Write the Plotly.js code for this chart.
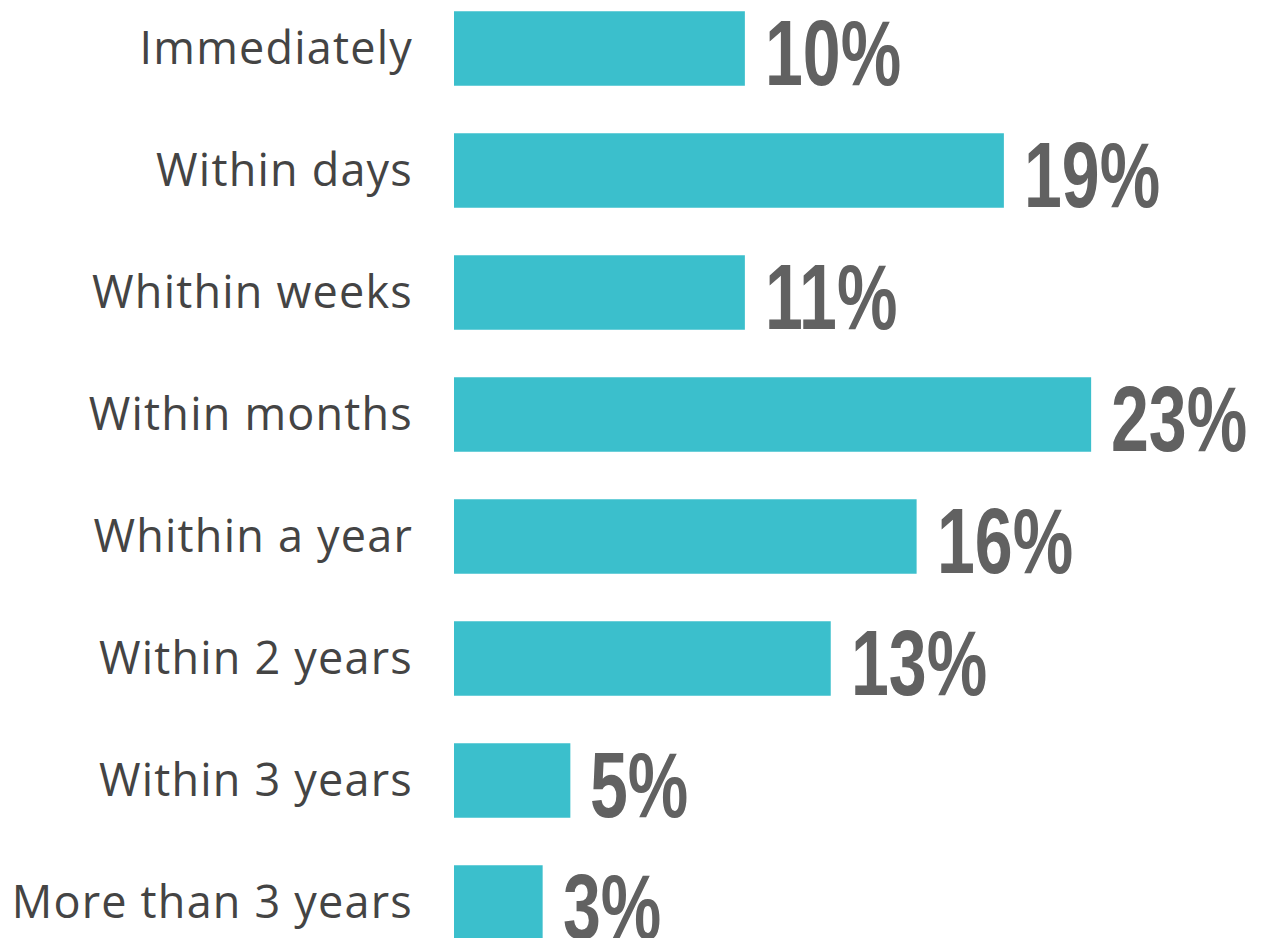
<!DOCTYPE html>
<html>
<head>
<meta charset="utf-8">
<script src="https://cdn.plot.ly/plotly-3.0.1.min.js"></script>
<style>html,body{margin:0;padding:0;background:#fff;}#chart{width:1264px;height:938px;}
.ytick text{letter-spacing:1.2px;}</style>
</head>
<body>
<div id="chart"></div>
<script>
// Data
var categories = ["Immediately", "Within days", "Whithin weeks", "Within months", "Whithin a year", "Within 2 years", "Within 3 years", "More than 3 years"];
var percentLabels = [10, 19, 11, 23, 16, 13, 5, 3];
// bar lengths as drawn in the picture (in % units)
var barLengths = [10.5, 19.85, 10.5, 23.0, 16.7, 13.6, 4.2, 3.2];

var annotations = categories.map(function (c, i) {
  return {
    x: barLengths[i], y: c, xref: 'x', yref: 'y',
    text: percentLabels[i] + '%',
    showarrow: false, xanchor: 'left', yanchor: 'middle', xshift: 18, yshift: -4,
    font: {family: '"Liberation Sans", Arial, sans-serif', size: 92, color: '#616161', weight: 700}
  };
});

var trace = {
  type: 'bar', orientation: 'h',
  x: barLengths, y: categories,
  width: 0.61,
  marker: {color: '#3bbfcc'},
  hoverinfo: 'none'
};

var layout = {
  width: 1264, height: 938,
  margin: {l: 454, r: 0, t: 0, b: 0},
  paper_bgcolor: '#fff', plot_bgcolor: '#fff',
  showlegend: false,
  xaxis: {range: [0, 29.24], visible: false, fixedrange: true},
  yaxis: {
    type: 'category', range: [7.291, -0.398],
    showgrid: false, zeroline: false, showline: false,
    ticks: '', ticklabelstandoff: 40,
    tickfont: {family: '"Open Sans", sans-serif', size: 45, color: '#444444'}
  },
  annotations: annotations
};

Plotly.newPlot('chart', [trace], layout, {staticPlot: true, displayModeBar: false}).then(function (gd) {
  var texts = gd.querySelectorAll('.annotation-text');
  texts.forEach(function (t) {
    var bb = t.getBBox();
    var x0 = bb.x;
    var prev = t.getAttribute('transform') || '';
    t.setAttribute('transform', prev + ' translate(' + x0 + ',0) scale(0.74,1) translate(' + (-x0) + ',0)');
  });
});
</script>
</body>
</html>
